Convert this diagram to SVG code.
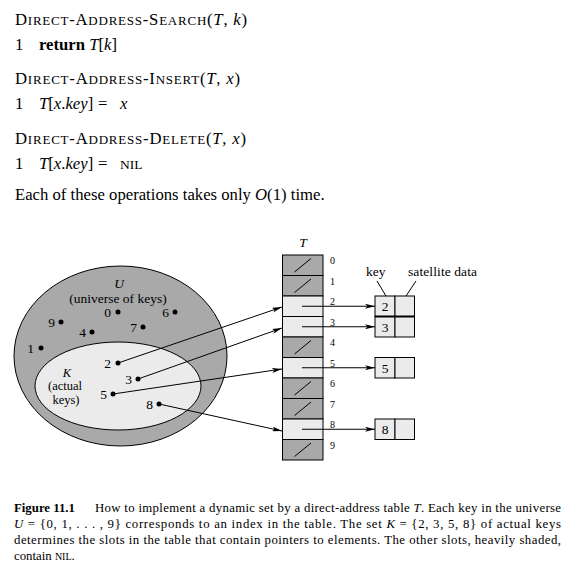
<svg xmlns="http://www.w3.org/2000/svg" width="573" height="579" viewBox="0 0 573 579">
<style>
text{font-family:"Liberation Serif","Times New Roman",serif;fill:#000}
.code{font-size:16.7px}
.s{font-size:13px}
.it{font-style:italic}
.b{font-weight:bold}
.lbl{font-size:13.5px}
.klbl{font-size:12.5px}
.idx{font-size:10px}
.cap{font-size:12.8px}
.capsc{font-size:10px}
.dark{fill:#a9a9a9;stroke:#000;stroke-width:1}
.light{fill:#ebebeb;stroke:#000;stroke-width:1}
.ln{stroke:#000;stroke-width:1;fill:none}
.dot{fill:#000}
</style>
<defs>
<marker id="ah" viewBox="0 0 10 5" refX="10" refY="2.5" markerWidth="10" markerHeight="5" markerUnits="userSpaceOnUse" orient="auto"><path d="M0,0 L10,2.5 L0,5 L2.5,2.5 z" fill="#000"/></marker>
</defs>
<rect width="573" height="579" fill="#fff"/>

<g id="pseudocode">
<text class="code" x="15" y="25" textLength="232" lengthAdjust="spacing">D<tspan class="s">IRECT</tspan>-A<tspan class="s">DDRESS</tspan>-S<tspan class="s">EARCH</tspan>(<tspan class="it">T</tspan>, <tspan class="it">k</tspan>)</text>
<text class="code" x="15" y="50">1</text>
<text class="code" x="39" y="50"><tspan class="b">return</tspan> <tspan class="it">T</tspan>[<tspan class="it">k</tspan>]</text>
<text class="code" x="15" y="84" textLength="225" lengthAdjust="spacing">D<tspan class="s">IRECT</tspan>-A<tspan class="s">DDRESS</tspan>-I<tspan class="s">NSERT</tspan>(<tspan class="it">T</tspan>, <tspan class="it">x</tspan>)</text>
<text class="code" x="15" y="109">1</text>
<text class="code" x="39" y="109"><tspan class="it">T</tspan>[<tspan class="it">x</tspan>.<tspan class="it">key</tspan>]</text>
<text class="code" x="98" y="109">=</text>
<text class="code it" x="120" y="109">x</text>
<text class="code" x="15" y="144" textLength="231" lengthAdjust="spacing">D<tspan class="s">IRECT</tspan>-A<tspan class="s">DDRESS</tspan>-D<tspan class="s">ELETE</tspan>(<tspan class="it">T</tspan>, <tspan class="it">x</tspan>)</text>
<text class="code" x="15" y="169">1</text>
<text class="code" x="39" y="169"><tspan class="it">T</tspan>[<tspan class="it">x</tspan>.<tspan class="it">key</tspan>]</text>
<text class="code" x="98" y="169">=</text>
<text class="code" x="120" y="169" style="font-size:13.5px">NIL</text>
<text class="code" x="15" y="200">Each of these operations takes only <tspan class="it">O</tspan>(1) time.</text>
</g>

<g id="universe">
<ellipse class="dark" cx="120.5" cy="356" rx="106.5" ry="90"/>
<text class="lbl it" x="119" y="288" text-anchor="middle">U</text>
<text class="lbl" x="118" y="303" text-anchor="middle">(universe of keys)</text>
</g>
<g id="actual-keys">
<ellipse class="light" cx="118" cy="386" rx="83" ry="44"/>
<text class="klbl it" x="67" y="376.5" text-anchor="middle">K</text>
<text class="klbl" x="65" y="390" text-anchor="middle">(actual</text>
<text class="klbl" x="66" y="403.5" text-anchor="middle">keys)</text>
</g>
<g id="key-0"><circle class="dot" cx="118" cy="312" r="2.5"/><text class="lbl" x="111" y="316.5" text-anchor="end">0</text></g>
<g id="key-1"><circle class="dot" cx="41" cy="348" r="2.5"/><text class="lbl" x="34" y="352.5" text-anchor="end">1</text></g>
<g id="key-2"><circle class="dot" cx="118" cy="363" r="2.5"/><text class="lbl" x="111" y="367.5" text-anchor="end">2</text></g>
<g id="key-3"><circle class="dot" cx="138" cy="379" r="2.5"/><text class="lbl" x="132" y="383.5" text-anchor="end">3</text></g>
<g id="key-4"><circle class="dot" cx="92" cy="332" r="2.5"/><text class="lbl" x="86" y="336.5" text-anchor="end">4</text></g>
<g id="key-5"><circle class="dot" cx="113" cy="394" r="2.5"/><text class="lbl" x="107" y="398.5" text-anchor="end">5</text></g>
<g id="key-6"><circle class="dot" cx="175" cy="312" r="2.5"/><text class="lbl" x="169" y="316.5" text-anchor="end">6</text></g>
<g id="key-7"><circle class="dot" cx="143" cy="327" r="2.5"/><text class="lbl" x="137" y="331.5" text-anchor="end">7</text></g>
<g id="key-8"><circle class="dot" cx="159" cy="404" r="2.5"/><text class="lbl" x="153" y="408.5" text-anchor="end">8</text></g>
<g id="key-9"><circle class="dot" cx="61" cy="322" r="2.5"/><text class="lbl" x="55" y="326.5" text-anchor="end">9</text></g>

<g id="table">
<text class="lbl it" x="303" y="247" text-anchor="middle">T</text>
<g id="slot-0"><rect class="dark" x="282.5" y="255" width="40.5" height="20.5"/><line class="ln" x1="294.5" y1="272" x2="311" y2="258.5"/><text class="idx" x="330" y="264">0</text></g>
<g id="slot-1"><rect class="dark" x="282.5" y="275.5" width="40.5" height="20.5"/><line class="ln" x1="294.5" y1="292.5" x2="311" y2="279"/><text class="idx" x="330" y="284.5">1</text></g>
<g id="slot-2"><rect class="light" x="282.5" y="296" width="40.5" height="20.5"/><text class="idx" x="330" y="305">2</text></g>
<g id="slot-3"><rect class="light" x="282.5" y="316.5" width="40.5" height="20.5"/><text class="idx" x="330" y="325.5">3</text></g>
<g id="slot-4"><rect class="dark" x="282.5" y="337" width="40.5" height="20.5"/><line class="ln" x1="294.5" y1="354" x2="311" y2="340.5"/><text class="idx" x="330" y="346">4</text></g>
<g id="slot-5"><rect class="light" x="282.5" y="357.5" width="40.5" height="20.5"/><text class="idx" x="330" y="366.5">5</text></g>
<g id="slot-6"><rect class="dark" x="282.5" y="378" width="40.5" height="20.5"/><line class="ln" x1="294.5" y1="395" x2="311" y2="381.5"/><text class="idx" x="330" y="387">6</text></g>
<g id="slot-7"><rect class="dark" x="282.5" y="398.5" width="40.5" height="20.5"/><line class="ln" x1="294.5" y1="415.5" x2="311" y2="402"/><text class="idx" x="330" y="407.5">7</text></g>
<g id="slot-8"><rect class="light" x="282.5" y="419" width="40.5" height="20.5"/><text class="idx" x="330" y="428">8</text></g>
<g id="slot-9"><rect class="dark" x="282.5" y="439.5" width="40.5" height="20.5"/><line class="ln" x1="294.5" y1="456.5" x2="311" y2="443"/><text class="idx" x="330" y="448.5">9</text></g>
</g>

<g id="labels">
<text class="lbl" x="366" y="276">key</text>
<text class="lbl" x="408" y="276" textLength="69" lengthAdjust="spacing">satellite data</text>
<line class="ln" x1="377" y1="281" x2="386" y2="296"/>
<line class="ln" x1="416" y1="281" x2="406" y2="296"/>
</g>

<g id="element-2"><rect class="light" x="375" y="296" width="20" height="20.5"/><rect class="light" x="395" y="296" width="19.5" height="20.5"/><text class="lbl" x="385" y="311" text-anchor="middle">2</text></g>
<g id="element-3"><rect class="light" x="375" y="316.5" width="20" height="20.5"/><rect class="light" x="395" y="316.5" width="19.5" height="20.5"/><text class="lbl" x="385" y="331.5" text-anchor="middle">3</text><line x1="375" y1="316.5" x2="414.5" y2="316.5" stroke="#000" stroke-width="2"/></g>
<g id="element-5"><rect class="light" x="375" y="357.5" width="20" height="20.5"/><rect class="light" x="395" y="357.5" width="19.5" height="20.5"/><text class="lbl" x="385" y="372.5" text-anchor="middle">5</text></g>
<g id="element-8"><rect class="light" x="375" y="419" width="20" height="20.5"/><rect class="light" x="395" y="419" width="19.5" height="20.5"/><text class="lbl" x="385" y="434" text-anchor="middle">8</text></g>

<g id="connectors">
<line class="ln" x1="118" y1="363" x2="282" y2="307" marker-end="url(#ah)"/>
<line class="ln" x1="138" y1="379" x2="282" y2="328" marker-end="url(#ah)"/>
<line class="ln" x1="113" y1="394" x2="282" y2="369" marker-end="url(#ah)"/>
<line class="ln" x1="159" y1="404" x2="282" y2="431" marker-end="url(#ah)"/>
<line class="ln" x1="302" y1="306.25" x2="375" y2="306.25" marker-end="url(#ah)"/>
<line class="ln" x1="302" y1="326.75" x2="375" y2="326.75" marker-end="url(#ah)"/>
<line class="ln" x1="302" y1="367.75" x2="375" y2="367.75" marker-end="url(#ah)"/>
<line class="ln" x1="302" y1="429.25" x2="375" y2="429.25" marker-end="url(#ah)"/>
</g>

<g id="caption">
<text class="cap b" x="14" y="512">Figure 11.1</text>
<text class="cap" x="95" y="512" textLength="466" lengthAdjust="spacing">How to implement a dynamic set by a direct-address table <tspan class="it">T</tspan>. Each key in the universe</text>
<text class="cap" x="14" y="528" textLength="547" lengthAdjust="spacing"><tspan class="it">U</tspan> = {0, 1, . . . , 9} corresponds to an index in the table. The set <tspan class="it">K</tspan> = {2, 3, 5, 8} of actual keys</text>
<text class="cap" x="14" y="544" textLength="547" lengthAdjust="spacing">determines the slots in the table that contain pointers to elements. The other slots, heavily shaded,</text>
<text class="cap" x="14" y="560">contain <tspan class="capsc">NIL</tspan>.</text>
</g>
</svg>
